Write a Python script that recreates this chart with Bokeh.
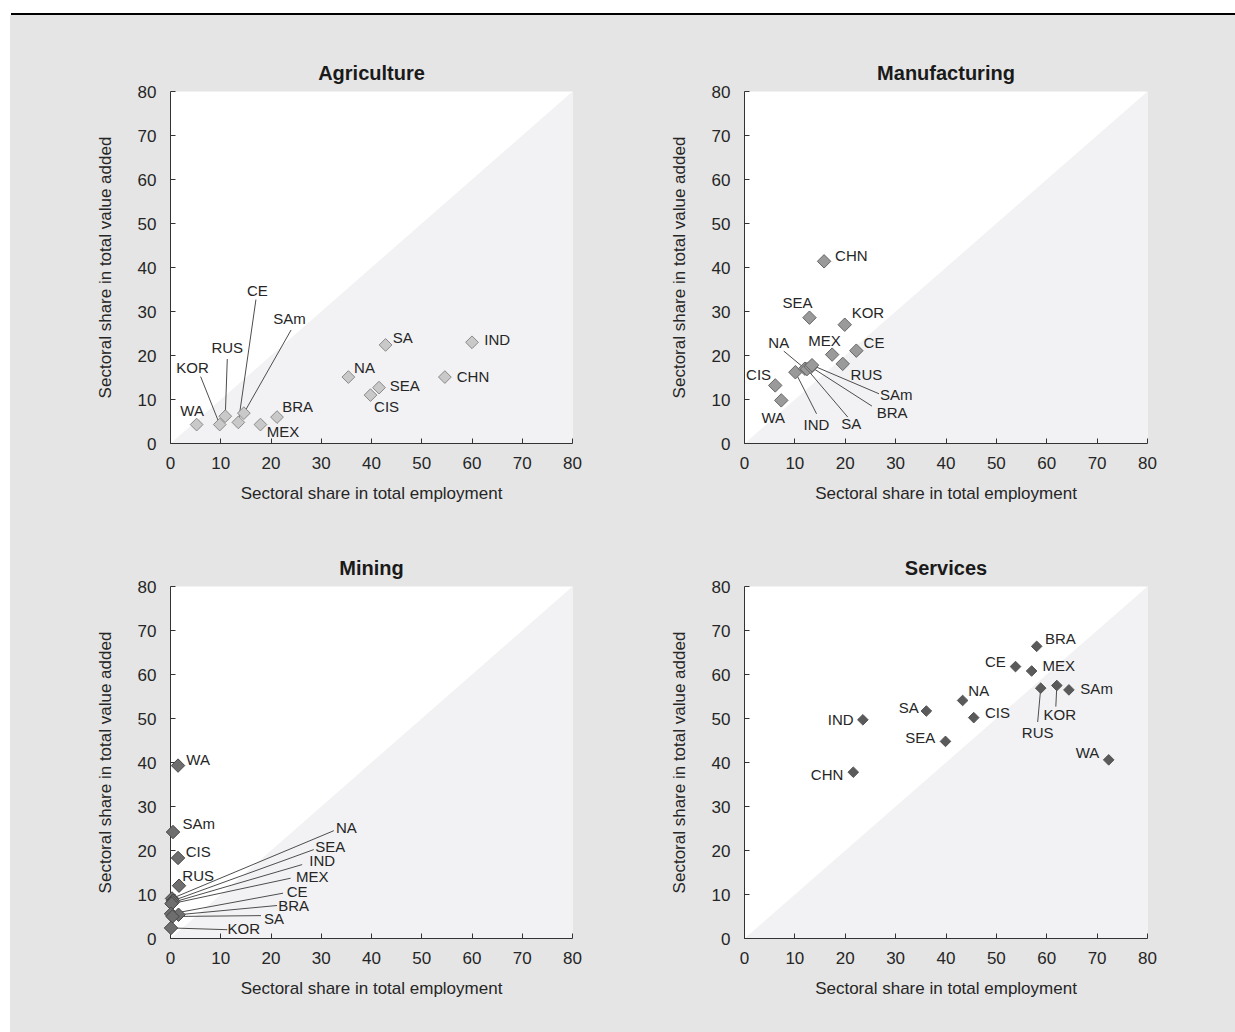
import numpy as np
from bokeh.plotting import figure
from bokeh.models import Range1d, FixedTicker, ColumnDataSource, Div, Spacer
from bokeh.layouts import column, row
from bokeh.embed import file_html
from bokeh.resources import INLINE

TICKS = [0, 10, 20, 30, 40, 50, 60, 70, 80]
X_TITLE = "Sectoral share in total employment"
Y_TITLE = "Sectoral share in total value added"

# ---------------- data ----------------
agr_country = ["WA", "KOR", "RUS", "CE", "SAm", "MEX", "BRA", "NA", "CIS", "SEA", "SA", "CHN", "IND"]
agr_emp = [5.2, 9.8, 10.9, 13.5, 14.6, 17.9, 21.2, 35.4, 39.8, 41.5, 42.8, 54.6, 60.0]
agr_va = [4.3, 4.3, 6.2, 4.8, 6.9, 4.3, 6.0, 15.1, 11.0, 12.7, 22.4, 15.1, 23.0]

man_country = ["WA", "CIS", "IND", "NA", "SA", "BRA", "SAm", "MEX", "RUS", "CE", "KOR", "SEA", "CHN"]
man_emp = [7.3, 6.1, 10.1, 12.0, 12.4, 13.2, 13.4, 17.4, 19.5, 22.2, 19.9, 12.9, 15.8]
man_va = [9.8, 13.2, 16.2, 17.0, 16.9, 17.4, 17.8, 20.2, 18.1, 21.1, 27.0, 28.6, 41.4]

min_country = ["WA", "SAm", "CIS", "RUS", "NA", "SEA", "IND", "MEX", "CE", "BRA", "SA", "KOR"]
min_emp = [1.5, 0.5, 1.5, 1.7, 0.3, 0.5, 0.4, 0.2, 0.1, 1.6, 0.4, 0.1]
min_va = [39.3, 24.2, 18.3, 12.0, 9.1, 8.6, 8.2, 7.9, 5.6, 5.4, 5.0, 2.4]

ser_country = ["CHN", "IND", "SA", "SEA", "NA", "CIS", "CE", "MEX", "BRA", "RUS", "KOR", "SAm", "WA"]
ser_emp = [21.6, 23.5, 36.1, 39.9, 43.3, 45.5, 53.8, 57.0, 58.0, 58.8, 62.0, 64.4, 72.3]
ser_va = [37.8, 49.7, 51.7, 44.8, 54.1, 50.2, 61.8, 60.8, 66.4, 56.9, 57.5, 56.5, 40.6]

# ---------------- label placement (label x, y [, leader start x, y]) ----------------
agr_labels = {
    "WA": (4.3, 7.5), "KOR": (4.4, 17.3, 6.0, 15.2), "RUS": (11.3, 21.9, 11.3, 19.2),
    "CE": (17.3, 34.8, 17.0, 32.7), "SAm": (23.7, 28.3, 24.0, 25.8), "MEX": (22.4, 2.7),
    "BRA": (25.3, 8.3), "SA": (46.2, 24.2), "IND": (65.0, 23.6), "NA": (38.6, 17.2),
    "SEA": (46.6, 13.2), "CIS": (43.0, 8.3), "CHN": (60.2, 15.2),
}
man_labels = {
    "CHN": (21.2, 42.7), "SEA": (10.5, 32.1), "KOR": (24.5, 29.8), "MEX": (15.9, 23.4),
    "CE": (25.7, 23.0), "RUS": (24.2, 15.6), "NA": (6.8, 22.9, 7.8, 21.0), "CIS": (2.8, 15.7),
    "WA": (5.7, 6.0), "IND": (14.3, 4.3, 14.3, 6.75), "SA": (21.2, 4.5, 20.5, 6.0),
    "BRA": (29.3, 7.1, 25.3, 8.5), "SAm": (30.1, 11.1, 26.7, 11.3),
}
min_labels = {
    "WA": (5.5, 40.6), "SAm": (5.6, 26.1), "CIS": (5.5, 19.8), "RUS": (5.5, 14.3),
    "NA": (35.0, 25.3, 32.5, 24.5), "SEA": (31.8, 21.0, 28.5, 20.2), "IND": (30.2, 17.7, 26.2, 16.8),
    "MEX": (28.2, 14.1, 23.9, 13.7), "CE": (25.2, 10.7, 22.4, 10.3), "BRA": (24.5, 7.5, 21.2, 7.5),
    "SA": (20.6, 4.6, 18.0, 5.2), "KOR": (14.6, 2.35, 11.3, 2.0),
}
ser_labels = {
    "BRA": (62.7, 68.1), "CE": (49.8, 63.0), "MEX": (62.4, 62.0), "NA": (46.5, 56.4),
    "SA": (32.6, 52.4), "CIS": (50.2, 51.4), "IND": (19.1, 49.7), "SEA": (34.9, 45.6),
    "CHN": (16.4, 37.3), "WA": (68.1, 42.3), "SAm": (69.9, 56.75),
    "KOR": (62.6, 50.9, 61.8, 52.7), "RUS": (58.2, 46.9, 58.2, 49.2),
}

FONT = "Liberation Sans"
PAGE_BG = "#e5e5e5"
TRI_BG = "#f2f2f4"
TEXT = "#262626"


def panel(title, countries, emp, va, labels, fill, line, msize,
          width, height, b_left, b_right, b_top, b_bottom):
    p = figure(width=width, height=height, title=title,
               x_range=Range1d(0, 80), y_range=Range1d(0, 80),
               output_backend="svg", toolbar_location=None,
               min_border_left=b_left, min_border_right=b_right,
               min_border_top=b_top, min_border_bottom=b_bottom)
    p.background_fill_color = "white"
    p.border_fill_color = PAGE_BG
    p.outline_line_color = None
    p.grid.visible = False

    p.title.align = "center"
    p.title.text_font = FONT
    p.title.text_font_size = "20px"
    p.title.text_font_style = "bold"
    p.title.text_color = "#1a1a1a"
    p.title.standoff = 15

    for ax in (p.xaxis[0], p.yaxis[0]):
        ax.ticker = FixedTicker(ticks=TICKS)
        ax.minor_tick_line_color = None
        ax.major_tick_in = 5
        ax.major_tick_out = 0
        ax.axis_line_color = "#333333"
        ax.major_tick_line_color = "#333333"
        ax.major_label_text_font = FONT
        ax.major_label_text_font_size = "17px"
        ax.major_label_text_color = TEXT
        ax.axis_label_text_font = FONT
        ax.axis_label_text_font_size = "17px"
        ax.axis_label_text_font_style = "normal"
        ax.axis_label_text_color = TEXT
    p.xaxis.axis_label = X_TITLE
    p.yaxis.axis_label = Y_TITLE
    p.xaxis.major_label_standoff = 13
    p.yaxis.major_label_standoff = 14
    p.xaxis.axis_label_standoff = 12
    p.yaxis.axis_label_standoff = 20

    # shaded region below the 45-degree line
    p.patch([0, 80, 80], [0, 0, 80], fill_color=TRI_BG, line_color=None)

    pts = dict(zip(countries, zip(emp, va)))
    lx, ly, txt = [], [], []
    sx0, sy0, sx1, sy1 = [], [], [], []
    for c, spec in labels.items():
        lx.append(spec[0]); ly.append(spec[1]); txt.append(c)
        if len(spec) == 4:
            sx0.append(spec[2]); sy0.append(spec[3])
            sx1.append(pts[c][0]); sy1.append(pts[c][1])
    if sx0:
        p.segment(x0=sx0, y0=sy0, x1=sx1, y1=sy1, line_color="#4d4d4d", line_width=1)

    src = ColumnDataSource(dict(x=emp, y=va, c=countries))
    p.scatter(x="x", y="y", source=src, marker="square", angle=np.pi / 4,
              size=msize, fill_color=fill, line_color=line, line_width=1,
              level="overlay")

    lsrc = ColumnDataSource(dict(x=lx, y=ly, t=txt))
    p.text(x="x", y="y", text="t", source=lsrc, text_align="center",
           text_baseline="middle", text_font={"value": FONT},
           text_font_size={"value": "15px"}, text_color=TEXT)
    return p


top_line = Div(text="", width=1224, height=2, margin=(13, 0, 0, 11),
               styles={"background-color": "#000000"})

p1 = panel("Agriculture", agr_country, agr_emp, agr_va, agr_labels, "#c9c9c9", "#8a8a8a", 9,
           610, 500, 160, 48, 76, 72)
p2 = panel("Manufacturing", man_country, man_emp, man_va, man_labels, "#9a9a9a", "#666666", 9.5,
           615, 500, 124, 88, 76, 72)
p3 = panel("Mining", min_country, min_emp, min_va, min_labels, "#6e6e6e", "#474747", 9.5,
           610, 517, 160, 48, 71, 94)
p4 = panel("Services", ser_country, ser_emp, ser_va, ser_labels, "#5a5a5a", "#555555", 7.5,
           615, 517, 124, 88, 71, 94)

grid = column(row(p1, p2, styles={"background-color": PAGE_BG}),
              row(p3, p4, styles={"background-color": PAGE_BG}),
              styles={"background-color": PAGE_BG})

layout = column(top_line, row(Spacer(width=10, height=1017), grid))

with open("out.html", "w") as f:
    f.write(file_html(layout, INLINE))
